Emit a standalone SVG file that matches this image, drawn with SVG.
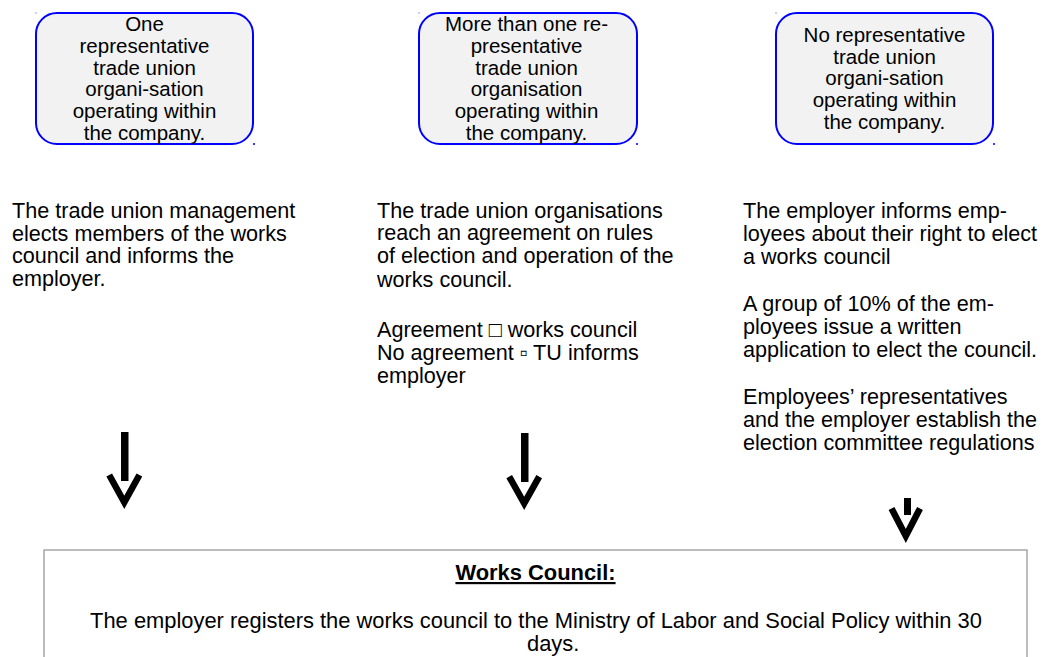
<svg xmlns="http://www.w3.org/2000/svg" width="1043" height="657" viewBox="0 0 1043 657">
<style>
.box{fill:#f2f2f2;stroke:#0000ff;stroke-width:2}
.bt{font-family:"Liberation Sans",Arial,sans-serif;font-size:20.5px;fill:#000;text-anchor:middle}
.tx{font-family:"Liberation Sans",Arial,sans-serif;font-size:21.6px;fill:#000}
.wc{font-family:"Liberation Sans",Arial,sans-serif;font-size:21.9px;fill:#000}
.dot{fill:#3a3aff}
.bar{fill:#000}
.chev{fill:none;stroke:#000;stroke-width:6.5;stroke-linejoin:miter;stroke-miterlimit:10;stroke-linecap:butt}
</style>
<rect width="1043" height="657" fill="#fff"/>
<g id="box1">
<rect class="box" x="36" y="13" width="217" height="131" rx="21" ry="21"/>
<rect class="dot" x="35.5" y="12.5" width="1" height="1"/>
<rect class="dot" x="253" y="143" width="2" height="2"/>
<text class="bt"><tspan x="144.5" y="31">One</tspan><tspan x="144.5" y="52.8">representative</tspan><tspan x="144.5" y="74.6">trade union</tspan><tspan x="144.5" y="96.4">organi-sation</tspan><tspan x="144.5" y="118.2">operating within</tspan><tspan x="144.5" y="140">the company.</tspan></text>
</g>
<g id="box2">
<rect class="box" x="419" y="13" width="218" height="131" rx="21" ry="21"/>
<rect class="dot" x="418.5" y="12.5" width="1" height="1"/>
<rect class="dot" x="636" y="143" width="2" height="2"/>
<text class="bt"><tspan x="526.5" y="31">More than one re-</tspan><tspan x="526.5" y="52.8">presentative</tspan><tspan x="526.5" y="74.6">trade union</tspan><tspan x="526.5" y="96.4">organisation</tspan><tspan x="526.5" y="118.2">operating within</tspan><tspan x="526.5" y="140">the company.</tspan></text>
</g>
<g id="box3">
<rect class="box" x="776" y="13" width="217" height="131" rx="21" ry="21"/>
<rect class="dot" x="775.5" y="12.5" width="1" height="1"/>
<rect class="dot" x="993" y="143" width="2" height="2"/>
<text class="bt"><tspan x="884.5" y="41.7">No representative</tspan><tspan x="884.5" y="63.5">trade union</tspan><tspan x="884.5" y="85.3">organi-sation</tspan><tspan x="884.5" y="107.1">operating within</tspan><tspan x="884.5" y="129">the company.</tspan></text>
</g>
<g id="text1">
<text class="tx"><tspan x="12" y="218">The trade union management</tspan><tspan x="12" y="240.7">elects members of the works</tspan><tspan x="12" y="263.4">council and informs the</tspan><tspan x="12" y="286.1">employer.</tspan></text>
</g>
<g id="text2">
<text class="tx"><tspan x="377" y="217.5">The trade union organisations</tspan><tspan x="377" y="240.3">reach an agreement on rules</tspan><tspan x="377" y="263.1">of election and operation of the</tspan><tspan x="377" y="286.5">works council.</tspan><tspan x="377" y="336.5">Agreement □ works council</tspan><tspan x="377" y="359.5">No agreement ▫ TU informs</tspan><tspan x="377" y="383">employer</tspan></text>
</g>
<g id="text3">
<text class="tx"><tspan x="743" y="218">The employer informs emp-</tspan><tspan x="743" y="240.7">loyees about their right to elect</tspan><tspan x="743" y="263.5">a works council</tspan><tspan x="743" y="311">A group of 10% of the em-</tspan><tspan x="743" y="333.7">ployees issue a written</tspan><tspan x="743" y="356.8">application to elect the council.</tspan><tspan x="743" y="403.5">Employees’ representatives</tspan><tspan x="743" y="426.7">and the employer establish the</tspan><tspan x="743" y="449.5">election committee regulations</tspan></text>
</g>
<g id="connectors">
<rect class="bar" x="121" y="432" width="7.5" height="49"/>
<polyline class="chev" points="109.2,475 124.3,502.3 139.4,475"/>
<rect class="bar" x="521" y="433" width="7.5" height="49"/>
<polyline class="chev" points="509.2,476.6 524.2,503.3 539.2,476.6"/>
<rect class="bar" x="904" y="498" width="7" height="17"/>
<polyline class="chev" points="891.5,508.4 905.8,536 920,508.4"/>
</g>
<g id="works-council">
<rect x="44" y="550" width="983" height="130" fill="#fff" stroke="#a6a6a6" stroke-width="1.5"/>
<text class="wc" x="535.5" y="580" text-anchor="middle" font-weight="bold" text-decoration="underline">Works Council:</text>
<text class="wc" x="536" y="627.7" text-anchor="middle">The employer registers the works council to the Ministry of Labor and Social Policy within 30</text>
<text class="wc" x="527" y="650.7">days.</text>
</g>
</svg>
